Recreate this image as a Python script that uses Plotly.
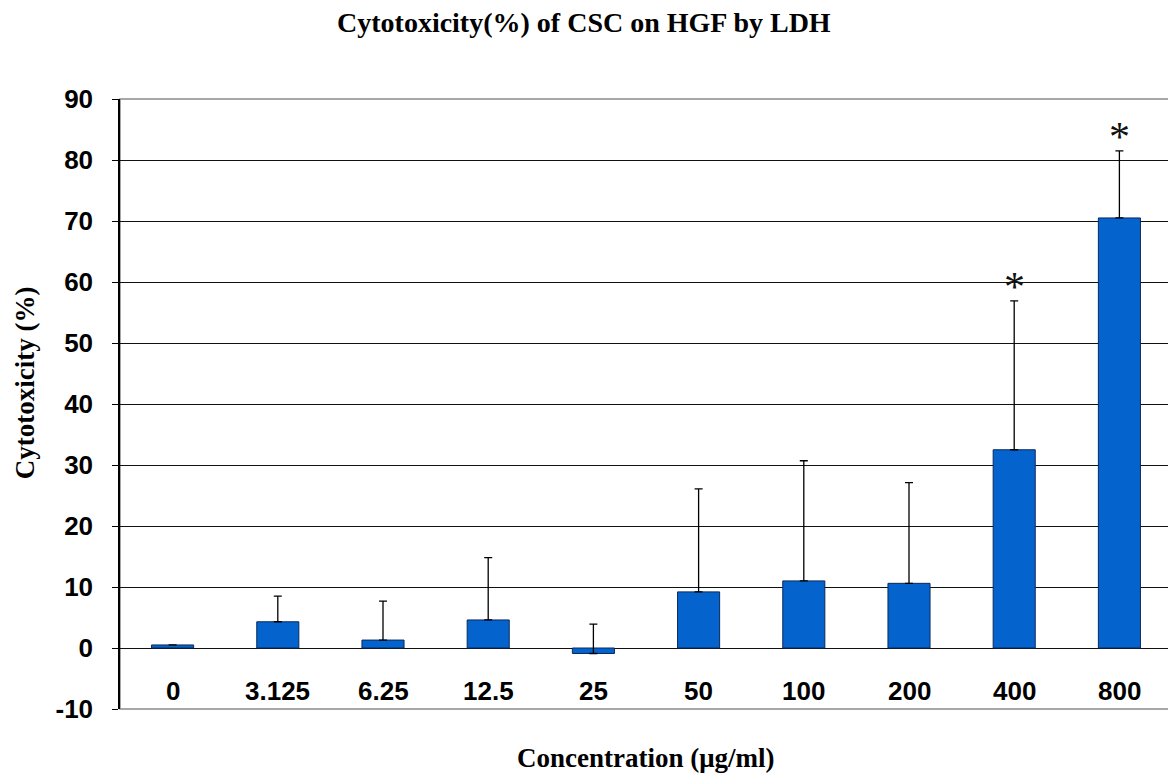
import plotly.graph_objects as go

categories = ["0", "3.125", "6.25", "12.5", "25", "50", "100", "200", "400", "800"]
values = [0.5, 4.3, 1.3, 4.6, -0.9, 9.2, 11.0, 10.6, 32.5, 70.5]
err_plus = [0.0, 4.2, 6.4, 10.2, 4.8, 16.9, 19.7, 16.5, 24.4, 11.0]
significant = [False, False, False, False, False, False, False, False, True, True]
y_ticks = [-10, 0, 10, 20, 30, 40, 50, 60, 70, 80, 90]
label_y = -7

fig = go.Figure()
fig.add_trace(go.Bar(
    x=categories, y=values,
    width=0.4,
    marker=dict(color="#0563CE", line=dict(color="#0A2A5A", width=1)),
    error_y=dict(type="data", symmetric=False, array=err_plus, arrayminus=[0]*len(values),
                 color="black", thickness=1.3, width=4, visible=True),
    showlegend=False,
))

annotations = []
for i, c in enumerate(categories):
    annotations.append(dict(x=i, y=label_y, xref="x", yref="y", text=c, showarrow=False,
                            font=dict(family="Liberation Sans", size=26, color="black", weight="bold"),
                            xanchor="center", yanchor="middle"))
for i, (v, e, s) in enumerate(zip(values, err_plus, significant)):
    if s:
        annotations.append(dict(x=i, y=v + e, xref="x", yref="y", text="*", showarrow=False,
                                font=dict(family="Liberation Serif", size=42, color="#111"),
                                xanchor="center", yanchor="bottom", yshift=-11))
annotations.append(dict(x=0.5, y=0, xref="paper", yref="paper", text="<b>Concentration (μg/ml)</b>",
                        showarrow=False, xanchor="center", yanchor="middle", yshift=-49,
                        font=dict(family="Liberation Serif", size=27, color="black")))
annotations.append(dict(x=0, y=0.534, xref="paper", yref="paper", text="<b>Cytotoxicity (%)</b>",
                        showarrow=False, xanchor="center", yanchor="middle", xshift=-95,
                        textangle=-90,
                        font=dict(family="Liberation Serif", size=27, color="black")))

fig.update_layout(
    width=1168, height=767,
    margin=dict(l=112, r=4, t=91, b=66),
    paper_bgcolor="white", plot_bgcolor="white",
    title=dict(text="<b>Cytotoxicity(%) of CSC on HGF by LDH</b>", x=0.493, xanchor="center",
               xref="container", y=1 - 14 / 767, yanchor="middle",
               font=dict(family="Liberation Serif", size=28, color="black")),
    xaxis=dict(type="category", range=[-0.5, len(categories) - 0.5],
               showticklabels=False, showgrid=False, zeroline=False, ticks="",
               showline=False),
    yaxis=dict(range=[-10, 90], tickvals=y_ticks, ticktext=[str(t) for t in y_ticks],
               ticks="outside", ticklen=6, tickcolor="black",
               showgrid=True, gridcolor="#111", gridwidth=1, zeroline=True, zerolinecolor="#111",
               zerolinewidth=1, showline=True, linecolor="black", linewidth=1.5,
               ticklabelstandoff=14,
               tickfont=dict(family="Liberation Sans", size=26, color="black", weight="bold")),
    shapes=[dict(type="rect", xref="paper", yref="paper", x0=0, x1=1, y0=0, y1=1,
                 line=dict(color="#8a8a8a", width=1.5), layer="below")],
    annotations=annotations,
)

fig.write_html("out.html")
